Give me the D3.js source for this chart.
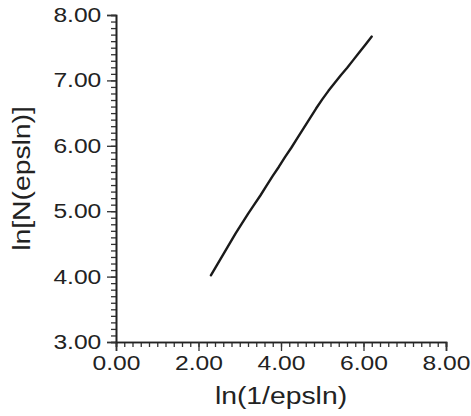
<!DOCTYPE html>
<html>
<head>
<meta charset="utf-8">
<script src="https://cdn.jsdelivr.net/npm/d3@7"></script>
<style>
  body { margin: 0; background: #fff; }
  text { font-family: "Liberation Sans", Arial, sans-serif; fill: #222; }
</style>
</head>
<body>
<svg></svg>
<script>
// ln(1/eps) values
var lnInvEps = [2.30, 2.45, 2.60, 2.75, 2.90, 3.05, 3.20, 3.35, 3.50, 3.65, 3.80, 3.95, 4.10,
                4.25, 4.40, 4.55, 4.70, 4.85, 5.00, 5.15, 5.30, 5.45, 5.60, 5.75, 5.90, 6.05, 6.20];
// ln N(eps) values
var lnN = [4.02, 4.18, 4.34, 4.50, 4.66, 4.81, 4.96, 5.10, 5.24, 5.39, 5.54, 5.68, 5.83,
           5.97, 6.12, 6.27, 6.42, 6.57, 6.71, 6.84, 6.96, 7.08, 7.19, 7.31, 7.43, 7.55, 7.67];

var xTicks = [0, 2, 4, 6, 8];
var yTicks = [3, 4, 5, 6, 7, 8];
var xTitle = "ln(1/epsln)";
var yTitle = "ln[N(epsln)]";

var svgWidth = 471, svgHeight = 416;
var margin = { top: 15, right: 25, bottom: 74, left: 116 };
var width = svgWidth - margin.left - margin.right;
var height = svgHeight - margin.top - margin.bottom;

var svg = d3.select('svg')
    .attr("width", svgWidth)
    .attr("height", svgHeight);

var g = svg.append("g")
    .attr("transform", "translate(" + margin.left + "," + margin.top + ")");

var x = d3.scaleLinear().domain([0, 8]).range([0, width]);
var y = d3.scaleLinear().domain([3, 8]).range([height, 0]);

// minor ticks first (ruler look)
g.append("g")
    .attr("class", "minor")
    .attr("transform", "translate(0," + height + ")")
    .call(d3.axisBottom(x).tickValues(d3.range(0, 8.01, 0.2)).tickSize(5).tickFormat(""));
g.append("g")
    .attr("class", "minor")
    .call(d3.axisLeft(y).tickValues(d3.range(3, 8.01, 0.1)).tickSize(5).tickFormat(""));

// X axis with labels
var xAxis = g.append("g")
    .attr("transform", "translate(0," + height + ")")
    .call(d3.axisBottom(x).tickValues(xTicks).tickSize(9).tickPadding(5)
        .tickFormat(function(d) { return d3.format(".2f")(d) }));

// Y axis with labels
var yAxis = g.append("g")
    .call(d3.axisLeft(y).tickValues(yTicks).tickSize(9).tickPadding(4)
        .tickFormat(function(d) { return d3.format(".2f")(d) }));

g.selectAll(".domain").attr("stroke", "#222").attr("stroke-width", 1.6);
g.selectAll(".tick line").attr("stroke", "#333").attr("stroke-width", 1.3);

// the font in the picture is a bit wider than Arial
xAxis.selectAll("text")
    .attr("font-size", "20px")
    .attr("fill", "#222")
    .attr("transform", "scale(1.23,1)");
yAxis.selectAll("text")
    .attr("font-size", "20px")
    .attr("fill", "#222")
    .attr("x", -12)
    .attr("transform", "scale(1.23,1)");

// axis titles
g.append("text")
    .attr("font-size", "24px")
    .attr("text-anchor", "middle")
    .attr("transform", "translate(" + (width / 2) + "," + (height + 62) + ") scale(1.18,1)")
    .text(xTitle);

g.append("text")
    .attr("font-size", "24px")
    .attr("text-anchor", "middle")
    .attr("transform", "translate(-86," + (height / 2) + ") rotate(-90) scale(1.18,1)")
    .text(yTitle);

// the data line
var pts = lnInvEps.map(function(v, i) { return [v, lnN[i]] });
var line = d3.line()
    .x(function(d) { return x(d[0]) })
    .y(function(d) { return y(d[1]) });

g.append("path")
    .datum(pts)
    .attr("fill", "none")
    .attr("stroke", "#1a1a1a")
    .attr("stroke-width", 2.4)
    .attr("stroke-linejoin", "round")
    .attr("stroke-linecap", "round")
    .attr("d", line);
</script>
</body>
</html>
